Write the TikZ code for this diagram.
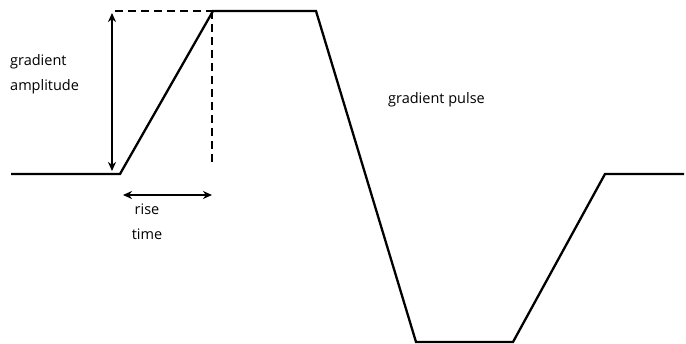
\documentclass[tikz,border=0pt]{standalone}
\usepackage{fontspec}
\setmainfont{Open Sans}
\usepackage{tikz}
\usetikzlibrary{arrows.meta}

\begin{document}
\begin{tikzpicture}[x=1pt, y=-1pt,
    pulse/.style={black, line width=2.3pt, line join=miter},
    guide/.style={black, line width=1.5pt, dash pattern=on 8pt off 5pt},
    measure/.style={black, line width=1.6pt, {Stealth[length=9pt,width=8pt]}-{Stealth[length=9pt,width=8pt]}},
    note/.style={font=\fontsize{14.5}{24.5}\selectfont, inner sep=0pt}]
            \useasboundingbox (0,0) rectangle (686,344);

            % Corners of the gradient waveform
            \coordinate (start) at (11,174);
            \coordinate (riseA) at (120,174);
            \coordinate (riseB) at (213,11);
            \coordinate (fallA) at (316,11);
            \coordinate (fallB) at (416,342);
            \coordinate (backA) at (513,342);
            \coordinate (backB) at (605,174);
            \coordinate (finish) at (684,174);

            % Waveform
            \draw[pulse] (start) -- (riseA) -- (riseB) -- (fallA) -- (fallB)
                -- (backA) -- (backB) -- (finish);

            % Dashed guides at the top of the ramp
            \coordinate (guideL) at (115,11);
            \coordinate (guideD) at (212,165);
            \draw[guide] (guideL) -- (riseB);
            \draw[guide] (212,11) -- (guideD);

            % Amplitude and rise time arrows
            \coordinate (ampT) at (112,13);
            \coordinate (ampB) at (112,171);
            \draw[measure] (ampT) -- (ampB);
            \coordinate (riseL) at (123,195);
            \coordinate (riseR) at (212,195);
            \draw[measure] (riseL) -- (riseR);

            % Labels
            \node[note, anchor=west, align=left] (amplitude) at (10,74) {gradient\\amplitude};
            \node[note, align=center] (risetime) at (147,222) {rise\\time};
            \node[note, anchor=west] (pulselabel) at (388,100) {gradient pulse};
        \end{tikzpicture}
\end{document}
